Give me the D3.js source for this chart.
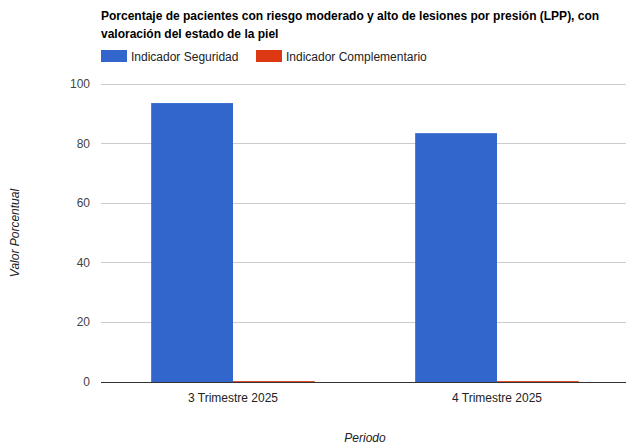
<!DOCTYPE html>
<html>
<head>
<meta charset="utf-8">
<script src="https://cdn.jsdelivr.net/npm/d3@7/dist/d3.min.js"></script>
<style>
  body { margin: 0; background: #fff; }
  svg { display: block; font-family: "Liberation Sans", Arial, sans-serif; }
</style>
</head>
<body>
<svg id="chart" width="626" height="444"></svg>
<script>
const categories = ['3 Trimestre 2025', '4 Trimestre 2025']
const seriesNames = ['Indicador Seguridad', 'Indicador Complementario']
const seguridad = [93.6, 83.5]
const complementario = [0.3, 0.3]
const yTicks = [0, 20, 40, 60, 80, 100]
const colors = ['#3366cc', '#dc3912']

const svg = d3.select('#chart')
const margin = { top: 84, right: -3, bottom: 62, left: 101 }
const width = 626 - margin.left - margin.right
const height = 444 - margin.top - margin.bottom

// title
const title = svg.append('text')
  .attr('x', 101)
  .attr('font-size', 12)
  .attr('font-weight', 'bold')
  .attr('fill', '#000')
title.append('tspan').attr('x', 101).attr('y', 20)
  .text('Porcentaje de pacientes con riesgo moderado y alto de lesiones por presión (LPP), con')
title.append('tspan').attr('x', 101).attr('y', 38)
  .text('valoración del estado de la piel')

// legend
const legendX = [101, 256]
seriesNames.forEach((name, i) => {
  const lg = svg.append('g').attr('transform', `translate(${legendX[i]},50)`)
  lg.append('rect').attr('width', 26).attr('height', 12).attr('fill', colors[i])
  lg.append('text').attr('x', 30).attr('y', 10.5)
    .attr('font-size', 12).attr('fill', '#222').text(name)
})

const g = svg.append('g').attr('transform', `translate(${margin.left},${margin.top})`)

const x = d3.scaleBand().domain(categories).range([0, width]).paddingInner(0).paddingOuter(0)
const y = d3.scaleLinear().domain([0, 100]).range([height, 0])

// gridlines
g.append('g').selectAll('line').data(yTicks).enter().append('line')
  .attr('x1', 0).attr('x2', width)
  .attr('y1', d => y(d)).attr('y2', d => y(d))
  .attr('stroke', d => d === 0 ? 'none' : '#cccccc')
  .attr('stroke-width', 1)
  .attr('shape-rendering', 'crispEdges')

// y labels
g.append('g').selectAll('text').data(yTicks).enter().append('text')
  .attr('x', -11).attr('y', d => y(d) + 4)
  .attr('text-anchor', 'end')
  .attr('font-size', 12).attr('fill', '#444')
  .text(d => d)

// bars
const groupWidth = x.bandwidth() * 0.62
const sub = d3.scaleBand().domain(seriesNames).range([0, groupWidth])
const rows = categories.map((c, i) => ({ cat: c, values: [seguridad[i], complementario[i]] }))

const grp = g.append('g').selectAll('g').data(rows).enter().append('g')
  .attr('transform', d => `translate(${x(d.cat) + (x.bandwidth() - groupWidth) / 2},0)`)
grp.selectAll('rect').data(d => d.values.map((v, i) => ({ v, i }))).enter().append('rect')
  .attr('x', d => sub(seriesNames[d.i]))
  .attr('width', sub.bandwidth())
  .attr('y', d => y(d.v))
  .attr('height', d => Math.max(1, height - y(d.v)))
  .attr('fill', d => colors[d.i])

// baseline
g.append('line')
  .attr('x1', 0).attr('x2', width)
  .attr('y1', y(0)).attr('y2', y(0))
  .attr('stroke', '#333').attr('shape-rendering', 'crispEdges')

// x labels
g.append('g').selectAll('text').data(categories).enter().append('text')
  .attr('x', d => x(d) + x.bandwidth() / 2)
  .attr('y', height + 20)
  .attr('text-anchor', 'middle')
  .attr('font-size', 12).attr('fill', '#222')
  .text(d => d)

// axis titles
svg.append('text')
  .attr('x', 365).attr('y', 442)
  .attr('text-anchor', 'middle')
  .attr('font-size', 12).attr('font-style', 'italic').attr('fill', '#222')
  .text('Periodo')

svg.append('text')
  .attr('transform', 'translate(19,233) rotate(-90)')
  .attr('text-anchor', 'middle')
  .attr('font-size', 12).attr('font-style', 'italic').attr('fill', '#222')
  .text('Valor Porcentual')
</script>
</body>
</html>
